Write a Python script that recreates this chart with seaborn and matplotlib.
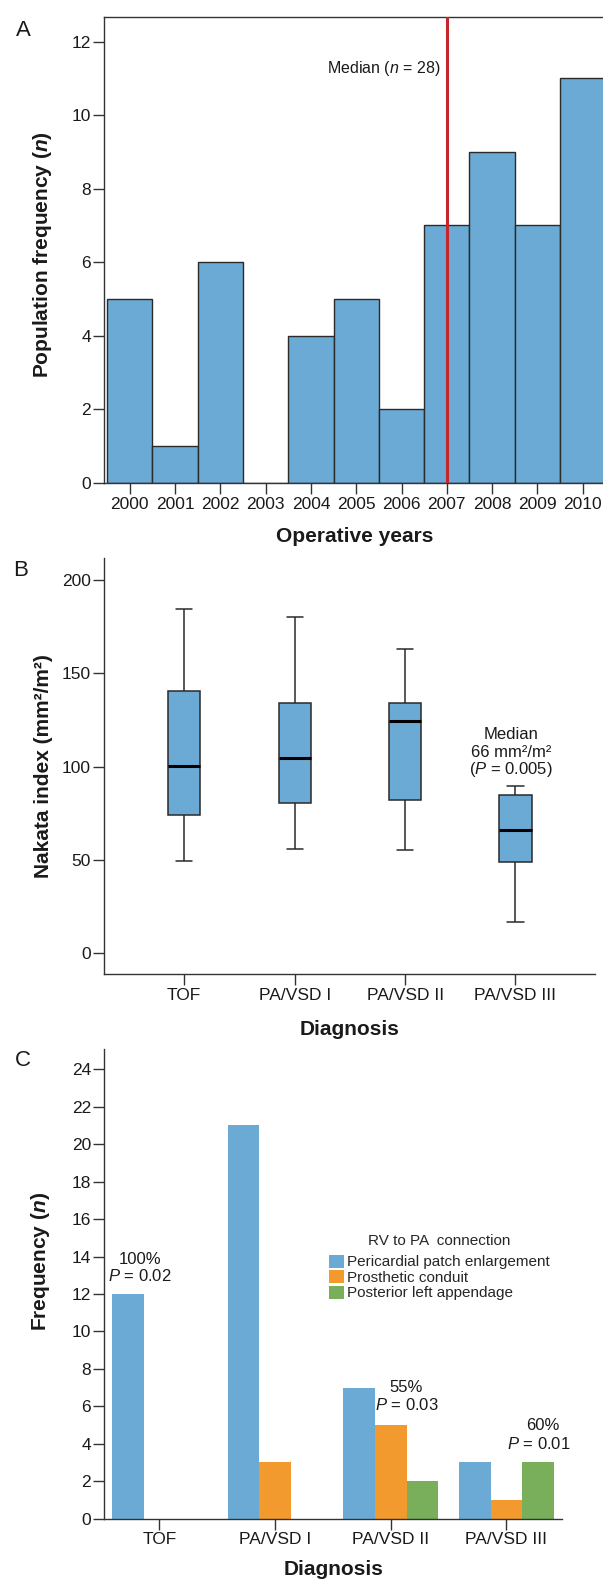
import numpy as np
import pandas as pd
import matplotlib
matplotlib.use("Agg")
import matplotlib.pyplot as plt
import seaborn as sns

# ---------------- data ----------------
years = [2000, 2001, 2002, 2003, 2004, 2005, 2006, 2007, 2008, 2009, 2010]
counts = [5, 1, 6, 0, 4, 5, 2, 7, 9, 7, 11]
median_year = 2007

diagnoses = ["TOF", "PA/VSD I", "PA/VSD II", "PA/VSD III"]
nakata_min = [49.2, 55.8, 54.9, 16.3]
nakata_q1 = [74.1, 80.3, 81.9, 48.9]
nakata_median = [100.4, 104.8, 124.7, 65.7]
nakata_q3 = [140.8, 134.2, 134.0, 84.5]
nakata_max = [184.6, 180.3, 163.3, 89.6]

connection_types = ["Pericardial patch enlargement", "Prosthetic conduit",
                    "Posterior left appendage"]
pericardial = [12, 21, 7, 3]
prosthetic = [0, 3, 5, 1]
posterior = [0, 0, 2, 3]

# ---------------- style ----------------
sns.set_style("ticks")
plt.rcParams["font.family"] = ["Liberation Sans", "DejaVu Sans"]
plt.rcParams["mathtext.fontset"] = "custom"
plt.rcParams["mathtext.rm"] = "Liberation Sans"
plt.rcParams["mathtext.it"] = "Liberation Sans:italic"
plt.rcParams["mathtext.bf"] = "Liberation Sans:bold"
try:
    plt.rcParams["mathtext.bfit"] = "Liberation Sans:italic:bold"
except KeyError:
    pass

BLUE = "#6aaad4"
ORANGE = "#f39a2e"
GREEN = "#79ae5a"
DARK = "#333333"
TXT = "#1a1a1a"

W, H = 603, 1585
fig = plt.figure(figsize=(W / 100, H / 100), dpi=100)


def rect(l, t, r, b):
    return [l / W, 1 - b / H, (r - l) / W, (b - t) / H]


def style_axis(ax, spines=("left", "bottom")):
    for s in ["left", "right", "top", "bottom"]:
        ax.spines[s].set_visible(s in spines)
        ax.spines[s].set_color(DARK)
        ax.spines[s].set_linewidth(1.0)
    ax.tick_params(axis="both", direction="out", length=8, width=1.0,
                   color=DARK, labelsize=12.5, labelcolor=TXT)
    ax.tick_params(axis="y", pad=1.5)
    ax.tick_params(axis="x", pad=2)
    ax.grid(False)


# ---------------- panel A ----------------
axA = fig.add_axes(rect(104.3, 16.7, 605.4, 482.7))
sns.barplot(x=years, y=counts, native_scale=True, orient="x", width=1.0,
            color=BLUE, saturation=1, edgecolor="#2a2a2a", linewidth=1.0,
            errorbar=None, ax=axA)
axA.axvline(median_year, color="#c4262e", lw=2.2, zorder=3)
axA.text(2006.87, 11.26, r"Median ($n$ = 28)", ha="right", va="center",
         fontsize=11.5, color=TXT)
axA.set_xlim(1999.44, 2010.5)
axA.set_ylim(0, 12.68)
axA.set_xticks(years)
axA.set_xticklabels([str(y) for y in years])
axA.set_yticks(range(0, 13, 2))
style_axis(axA, spines=("left", "bottom", "top", "right"))
axA.set_xlabel("Operative years", fontsize=15, fontweight="bold", color=TXT)
axA.set_ylabel(r"Population frequency ($\mathbfit{n}$)", fontsize=15,
               fontweight="bold", color=TXT)
axA.xaxis.set_label_coords(0.5, -0.095)
axA.yaxis.set_label_coords(-0.1004, 0.49)

# ---------------- panel B ----------------
axB = fig.add_axes(rect(104.3, 558.0, 595.0, 974.3))
rows = []
for d, a, b, c, e, f in zip(diagnoses, nakata_min, nakata_q1, nakata_median,
                            nakata_q3, nakata_max):
    for v in (a, b, c, e, f):
        rows.append({"diagnosis": d, "value": v})
df_box = pd.DataFrame(rows)
sns.boxplot(data=df_box, x="diagnosis", y="value", order=diagnoses,
            color=BLUE, saturation=1, width=0.29, whis=(0, 100),
            linecolor="#2a2a2a", linewidth=1.1,
            medianprops=dict(color="black", linewidth=2.2), ax=axB)
axB.set_xlim(-0.724, 3.72)
axB.set_ylim(-11.6, 212)
axB.set_yticks([0, 50, 100, 150, 200])
style_axis(axB)
axB.set_xlabel("Diagnosis", fontsize=15, fontweight="bold", color=TXT)
axB.set_ylabel("Nakata index (mm²/m²)", fontsize=15, fontweight="bold",
               color=TXT)
axB.xaxis.set_label_coords(0.5, -0.11)
axB.yaxis.set_label_coords(-0.1045, 0.5)
axB.text(2.96, 117.4, "Median", ha="center", va="center", fontsize=12, color=TXT)
axB.text(2.96, 107.5, "66 mm²/m²", ha="center", va="center", fontsize=12,
         color=TXT)
axB.text(2.96, 98.2, r"($P$ = 0.005)", ha="center", va="center", fontsize=12,
         color=TXT)

# ---------------- panel C ----------------
axC = fig.add_axes(rect(104.3, 1048.7, 562.0, 1518.6))
rows = []
for i, d in enumerate(diagnoses):
    for name, vals in zip(connection_types, [pericardial, prosthetic, posterior]):
        rows.append({"diagnosis": d, "connection": name, "count": vals[i]})
df_bar = pd.DataFrame(rows)
sns.barplot(data=df_bar, x="diagnosis", y="count", hue="connection",
            order=diagnoses, hue_order=connection_types,
            palette=[BLUE, ORANGE, GREEN], saturation=1, width=0.82,
            errorbar=None, linewidth=0, ax=axC)
axC.set_xlim(-0.476, 3.48)
axC.set_ylim(0, 25.1)
axC.set_yticks(range(0, 25, 2))
style_axis(axC)
axC.set_xlabel("Diagnosis", fontsize=15, fontweight="bold", color=TXT)
axC.set_ylabel(r"Frequency ($\mathbfit{n}$)", fontsize=15, fontweight="bold",
               color=TXT)
axC.xaxis.set_label_coords(0.5, -0.088)
axC.yaxis.set_label_coords(-0.114, 0.548)

handles, labels = axC.get_legend_handles_labels()
if axC.get_legend() is not None:
    axC.get_legend().remove()
leg = axC.legend(handles, labels, title="RV to PA  connection",
                 loc="upper left", bbox_to_anchor=(0.49, 0.606),
                 frameon=False, fontsize=11, title_fontsize=11,
                 handlelength=1.02, handleheight=0.92, handletextpad=0.2,
                 labelspacing=0.05, borderpad=0, borderaxespad=0)
try:
    leg._legend_box.sep = 5
except Exception:
    pass

ann = [(-0.167, 13.85, "100%"), (-0.167, 12.95, r"$P$ = 0.02"),
       (2.13, 7.0, "55%"), (2.14, 6.07, r"$P$ = 0.03"),
       (3.31, 4.95, "60%"), (3.28, 3.98, r"$P$ = 0.01")]
for x, y, s in ann:
    axC.text(x, y, s, ha="center", va="center", fontsize=12, color=TXT)

# ---------------- panel letters ----------------
for (px, py, s) in [(23, 30, "A"), (21, 570, "B"), (23, 1061, "C")]:
    fig.text(px / W, 1 - py / H, s, ha="center", va="center", fontsize=16,
             color=TXT)

fig.savefig("out.png", dpi=100)
